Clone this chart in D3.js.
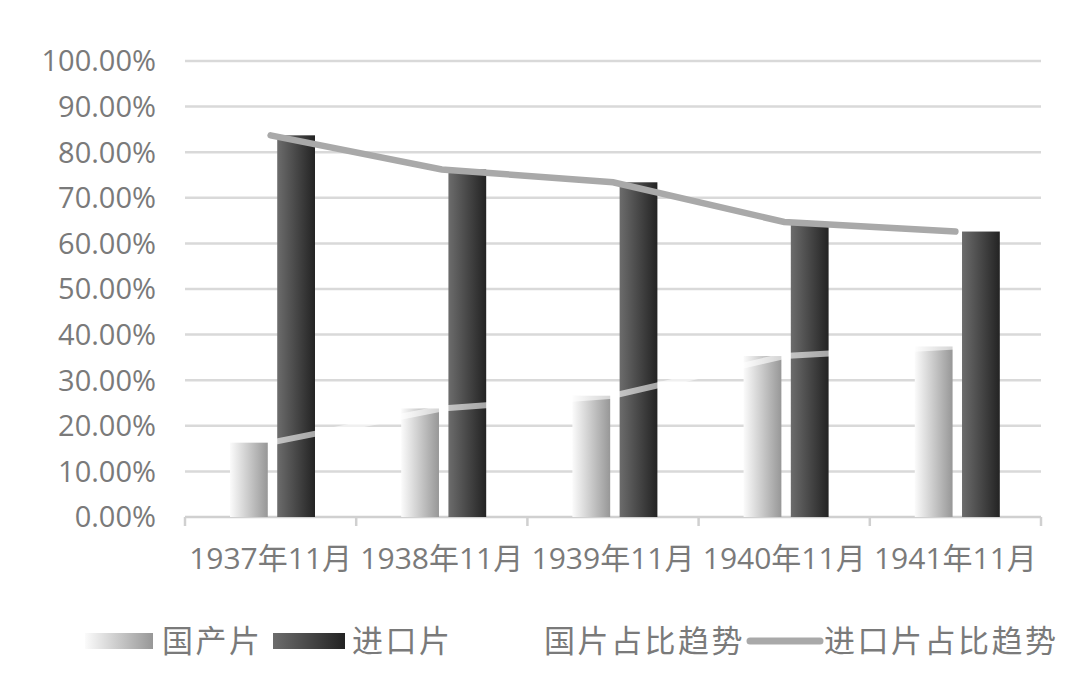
<!DOCTYPE html>
<html>
<head>
<meta charset="utf-8">
<script src="https://cdn.jsdelivr.net/npm/d3@7/dist/d3.min.js"></script>
<style>
  body { margin: 0; background: #fff; }
  text { font-family: "Open Sans", "Noto Sans CJK SC", sans-serif; fill: #7a7a7a; }
  .legend text { letter-spacing: 2.5px; }
</style>
</head>
<body>
<svg width="1080" height="680"></svg>
<script>
// data
const years = ["1937年11月", "1938年11月", "1939年11月", "1940年11月", "1941年11月"];
const domestic = [0.163, 0.238, 0.266, 0.353, 0.374];
const imported = [0.837, 0.762, 0.734, 0.647, 0.626];
const yTicks = [0, 0.1, 0.2, 0.3, 0.4, 0.5, 0.6, 0.7, 0.8, 0.9, 1.0];
const seriesNames = ["国产片", "进口片"];
const lineNames = ["国片占比趋势", "进口片占比趋势"];

const svg = d3.select("svg"),
  margin = { top: 61, right: 39, bottom: 163, left: 185 },
  width = 1080 - margin.left - margin.right,
  height = 680 - margin.top - margin.bottom;

const defs = svg.append("defs");
// gradients for the bars
function grad(id, c0, c1) {
  const g = defs.append("linearGradient").attr("id", id)
    .attr("x1", "0%").attr("x2", "100%").attr("y1", "0%").attr("y2", "0%");
  g.append("stop").attr("offset", "0%").attr("stop-color", c0);
  g.append("stop").attr("offset", "100%").attr("stop-color", c1);
}
grad("gDom", "#fbfbfb", "#979797");
grad("gImp", "#6c6c6c", "#232323");

const x0 = d3.scaleBand().domain(years).range([0, width]).padding(0);
const x1 = d3.scaleBand().domain(seriesNames).range([45, 130]).paddingInner(0.2);
const y = d3.scaleLinear().domain([0, 1]).range([height, 0]);

const g = svg.append("g")
  .attr("transform", "translate(" + margin.left + "," + margin.top + ")");

// grid lines
g.selectAll(".grid")
  .data(yTicks.slice(1))
  .enter().append("line")
  .attr("x1", 0).attr("x2", width)
  .attr("y1", d => y(d)).attr("y2", d => y(d))
  .attr("stroke", "#d9d9d9").attr("stroke-width", 2.5);

// y labels
g.selectAll(".ylab")
  .data(yTicks)
  .enter().append("text")
  .attr("x", -29).attr("y", d => y(d))
  .attr("dy", "0.36em")
  .attr("text-anchor", "end")
  .style("font-size", "29px")
  .text(d => (d * 100).toFixed(2) + "%");

// x axis with ticks at category boundaries
const xAxis = g.append("g")
  .attr("transform", "translate(0," + height + ")");
xAxis.append("line").attr("x1", 0).attr("x2", width)
  .attr("stroke", "#d0d0d0").attr("stroke-width", 2.5);
xAxis.selectAll(".tick")
  .data(years.concat([null]))
  .enter().append("line")
  .attr("x1", (d, i) => i * x0.step()).attr("x2", (d, i) => i * x0.step())
  .attr("y1", 0).attr("y2", 9)
  .attr("stroke", "#d0d0d0").attr("stroke-width", 2.5);
xAxis.selectAll(".xlab")
  .data(years)
  .enter().append("text")
  .attr("x", d => x0(d) + x0.bandwidth() / 2)
  .attr("y", 41)
  .attr("dy", "0.36em")
  .attr("text-anchor", "middle")
  .style("font-size", "30px")
  .text(d => d);

// bars
const groups = g.selectAll(".cat")
  .data(years)
  .enter().append("g")
  .attr("transform", d => "translate(" + x0(d) + ",0)");

groups.append("rect")
  .attr("x", x1("国产片")).attr("width", x1.bandwidth())
  .attr("y", (d, i) => y(domestic[i]))
  .attr("height", (d, i) => height - y(domestic[i]))
  .attr("fill", "url(#gDom)");

groups.append("rect")
  .attr("x", x1("进口片")).attr("width", x1.bandwidth())
  .attr("y", (d, i) => y(imported[i]))
  .attr("height", (d, i) => height - y(imported[i]))
  .attr("fill", "url(#gImp)");

// trend lines
const line = d3.line()
  .x((d, i) => x0(years[i]) + x0.bandwidth() / 2)
  .y(d => y(d));

// domestic trend is near-white, only shows over the dark bars
g.append("path").datum(domestic)
  .attr("d", line)
  .attr("fill", "none").attr("stroke", "#ffffff")
  .attr("stroke-opacity", 0.6)
  .attr("stroke-width", 6);

g.append("path").datum(imported)
  .attr("d", line)
  .attr("fill", "none").attr("stroke", "#a9a9a9")
  .attr("stroke-width", 6.5).attr("stroke-linecap", "round");

// legend
const lg = svg.append("g").attr("class", "legend").attr("transform", "translate(0,641)");
lg.append("rect").attr("x", 85).attr("y", -8).attr("width", 68).attr("height", 16).attr("fill", "url(#gDom)");
lg.append("text").attr("x", 162).attr("dy", "0.36em").style("font-size", "31px").text(seriesNames[0]);
lg.append("rect").attr("x", 273).attr("y", -8).attr("width", 72).attr("height", 16).attr("fill", "url(#gImp)");
lg.append("text").attr("x", 352).attr("dy", "0.36em").style("font-size", "31px").text(seriesNames[1]);
lg.append("line").attr("x1", 462).attr("x2", 538).attr("stroke", "#ffffff").attr("stroke-width", 7);
lg.append("text").attr("x", 544).attr("dy", "0.36em").style("font-size", "31px").text(lineNames[0]);
lg.append("line").attr("x1", 750).attr("x2", 820).attr("stroke", "#a9a9a9").attr("stroke-width", 7).attr("stroke-linecap", "round");
lg.append("text").attr("x", 824).attr("dy", "0.36em").style("font-size", "31px").text(lineNames[1]);
</script>
</body>
</html>
